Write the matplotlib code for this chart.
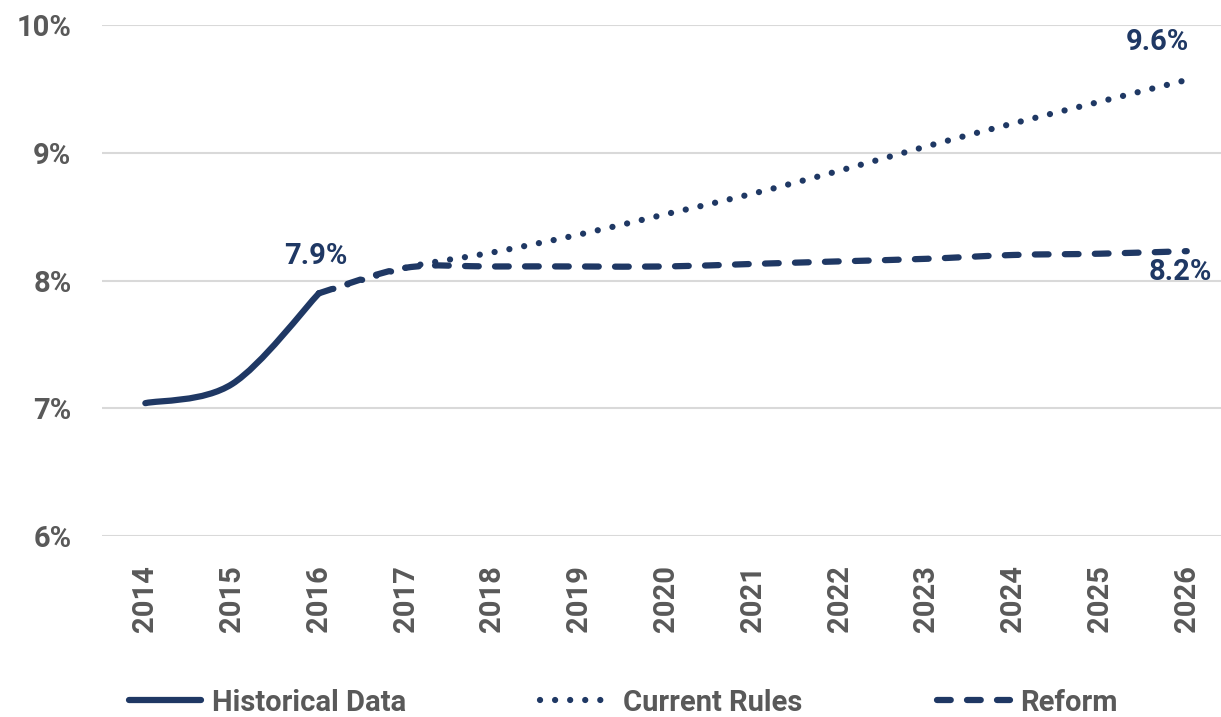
import numpy as np
import matplotlib
matplotlib.use("Agg")
import matplotlib.pyplot as plt
from matplotlib.path import Path
from matplotlib.patches import PathPatch
from matplotlib.lines import Line2D

years = [str(y) for y in range(2014, 2027)]
historical = [7.04, 7.19, 7.90, None, None, None, None, None, None, None, None, None, None]
current_rules = [None, None, 7.90, 8.10, 8.22, 8.36, 8.52, 8.68, 8.86, 9.05, 9.23, 9.40, 9.57]
reform = [None, None, 7.90, 8.10, 8.11, 8.11, 8.11, 8.13, 8.15, 8.17, 8.20, 8.21, 8.23]

navy = "#1F3864"
grey = "#595959"
lw = 4.5
fs = 21

plt.rcParams['font.family'] = ['Roboto', 'DejaVu Sans']
plt.rcParams['font.weight'] = 'bold'


def smooth_path(values):
    # Excel-style smoothed line: cubic Bezier segments through the points
    pts = np.array([(i, v) for i, v in enumerate(values) if v is not None], dtype=float)
    n = len(pts)
    verts = [pts[0]]
    codes = [Path.MOVETO]
    for i in range(n - 1):
        p0 = pts[i - 1] if i > 0 else pts[i]
        p1 = pts[i]
        p2 = pts[i + 1]
        p3 = pts[i + 2] if i + 2 < n else pts[i + 1]
        verts += [p1 + (p2 - p0) / 6, p2 - (p3 - p1) / 6, p2]
        codes += [Path.CURVE4] * 3
    return Path(verts, codes)


fig = plt.figure(figsize=(12.21, 7.17), dpi=100)
ax = fig.add_axes([0.0835, 0.2524, 0.924, 0.7127])

styles = {
    'hist': dict(linestyle='-'),
    'cur': dict(linestyle=(0, (0.01, 2.4))),
    'ref': dict(linestyle=(0, (2.2, 2.6))),
}

ax.add_patch(PathPatch(smooth_path(current_rules), fill=False, edgecolor=navy, lw=lw,
                       capstyle='round', joinstyle='round', zorder=3, **styles['cur']))
ax.add_patch(PathPatch(smooth_path(reform), fill=False, edgecolor=navy, lw=lw,
                       capstyle='round', joinstyle='round', zorder=4, **styles['ref']))
ax.add_patch(PathPatch(smooth_path(historical), fill=False, edgecolor=navy, lw=lw,
                       capstyle='round', joinstyle='round', zorder=5, **styles['hist']))

ax.set_xlim(-0.5, len(years) - 0.5)
ax.set_ylim(6, 10)
ax.set_yticks([6, 7, 8, 9, 10])
ax.set_yticklabels(['6%', '7%', '8%', '9%', '10%'])
ax.set_xticks(range(len(years)))
ax.set_xticklabels(years, rotation=90)
ax.tick_params(axis='both', length=0, labelsize=fs, labelcolor=grey)
ax.tick_params(axis='y', pad=22)
ax.tick_params(axis='x', pad=21)
for t in ax.get_xticklabels() + ax.get_yticklabels():
    t.set_fontweight('bold')
ax.grid(axis='y', color='#D9D9D9', lw=1.5)
ax.set_axisbelow(True)
for s in ax.spines.values():
    s.set_visible(False)

# data labels
lab = dict(textcoords='offset points', ha='center', va='center', fontsize=fs,
           color=navy, fontweight='bold', annotation_clip=False)
ax.annotate('7.9%', (2, historical[2]), xytext=(-2, 27), **lab)
ax.annotate('9.6%', (12, current_rules[12]), xytext=(-21, 27), **lab)
ax.annotate('8.2%', (12, reform[12]), xytext=(-5, -15), **lab)

handles = [
    Line2D([], [], color=navy, lw=lw, solid_capstyle='round', **styles['hist']),
    Line2D([], [], color=navy, lw=lw, dash_capstyle='round', **styles['cur']),
    Line2D([], [], color=navy, lw=lw, dash_capstyle='round', **styles['ref']),
]
leg = fig.legend(handles, ['Historical Data', 'Current Rules', 'Reform'], loc='center',
                 bbox_to_anchor=(623 / 1221, 0.02), ncol=3, frameon=False,
                 prop={'size': fs, 'weight': 'bold'},
                 handlelength=2.5, handletextpad=0.35, columnspacing=4.6)
for t in leg.get_texts():
    t.set_color(grey)

fig.savefig('out.png', dpi=100)
